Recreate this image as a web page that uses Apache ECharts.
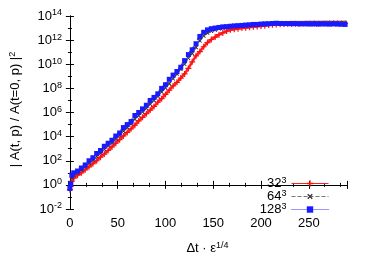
<!DOCTYPE html>
<html><head><meta charset="utf-8">
<script src="https://cdn.jsdelivr.net/npm/echarts@6/dist/echarts.min.js"></script>
<style>html,body{margin:0;padding:0;background:#fff}#c{width:371px;height:260px}</style>
</head><body><div id="c"></div>
<script>
// time axis (Δt · ε^{1/4})
var times = [0,1,2,4,8,12,16,20,24,28,32,36,40,44,48,52,56,60,64,68,72,76,80,84,88,92,96,100,104,108,112,116,120,124,128,132,136,140,144,148,152,156,160,164,168,172,176,180,184,188,192,196,200,204,208,212,216,220,224,228,232,236,240,244,248,252,256,260,264,268,272,276,280,284,288];
// log10 of |A(t,p)/A(t=0,p)|^2 (y axis is logarithmic: 10^exponent)
var log10_32 = [-0.4,-0.1,0.3,0.55,0.8,1.0,1.25,1.5,1.75,2.0,2.3,2.55,2.85,3.15,3.45,3.75,4.05,4.35,4.65,4.95,5.3,5.6,5.9,6.2,6.5,6.85,7.15,7.5,7.85,8.2,8.5,8.85,9.2,9.65,10.2,10.7,11.05,11.45,11.8,12.05,12.25,12.45,12.6,12.75,12.85,12.9,12.95,13.0,13.03,13.06,13.1,13.13,13.17,13.2,13.25,13.28,13.3,13.32,13.33,13.34,13.35,13.35,13.36,13.36,13.37,13.37,13.38,13.38,13.38,13.39,13.39,13.4,13.4,13.4,13.4];
var log10_64 = [-0.3,0.0,0.6,0.8,1.0,1.25,1.5,1.8,2.05,2.35,2.65,2.95,3.25,3.5,3.8,4.1,4.45,4.75,5.05,5.45,5.75,6.05,6.35,6.7,7.0,7.35,7.7,8.05,8.4,8.8,9.2,9.6,10.0,10.5,10.9,11.4,11.95,12.35,12.6,12.75,12.85,12.95,13.0,13.05,13.1,13.13,13.16,13.2,13.23,13.26,13.3,13.32,13.35,13.36,13.38,13.4,13.41,13.42,13.42,13.43,13.43,13.44,13.44,13.44,13.45,13.45,13.45,13.45,13.45,13.45,13.45,13.45,13.45,13.45,13.45];
var log10_128 = [-0.3,0.1,0.8,1.0,1.15,1.4,1.65,2.0,2.25,2.6,2.85,3.2,3.45,3.7,4.05,4.3,4.75,5.0,5.25,5.75,6.0,6.3,6.6,7.0,7.25,7.55,8.0,8.3,8.75,9.1,9.4,9.75,10.3,10.8,11.2,11.7,12.3,12.65,12.85,12.95,13.0,13.05,13.1,13.12,13.15,13.18,13.2,13.22,13.25,13.27,13.3,13.3,13.33,13.35,13.36,13.38,13.4,13.38,13.37,13.38,13.36,13.37,13.35,13.36,13.35,13.34,13.35,13.33,13.35,13.34,13.33,13.35,13.33,13.32,13.3];
var yTickExponents = [-2,0,2,4,6,8,10,12,14];
var seriesNames = ['32^3','64^3','128^3'];

function pts(arr){ return times.map(function(t,i){ return [t, arr[i]]; }); }
var FONT = 'Liberation Sans';
var rich = {
  b:{fontFamily:FONT,fontSize:13,color:'#000'},
  s:{fontFamily:FONT,fontSize:9,color:'#000',padding:[0,0,6,0]}
};
function supLabel(s){ var p=s.split('^'); return '{b|'+p[0]+'}{s|'+p[1]+'}'; }
var plus = 'path://M4,0h2v10h-2zM0,4h10v2h-10z';
var chart = echarts.init(document.getElementById('c'), null, {renderer:'canvas'});
var ySet = {type:'value', min:yTickExponents[0], max:yTickExponents[yTickExponents.length-1], interval:2};
chart.setOption({
  animation:false,
  backgroundColor:'#fff',
  grid:{left:64, right:24, top:16, bottom:41},
  legend:{
    orient:'vertical', right:37, top:171, itemGap:-1, itemWidth:37, itemHeight:8, align:'right',
    data:seriesNames,
    lineStyle:{width:1},
    formatter:function(n){return supLabel(n);},
    textStyle:{rich:rich}
  },
  xAxis:[{
    type:'value', min:-2, max:290, splitNumber:6,
    name:'{b|Δt · ε}{s|1/4}', nameLocation:'middle', nameGap:32,
    nameTextStyle:{rich:rich},
    axisLine:{lineStyle:{color:'#000'}},
    axisTick:{inside:true, length:4, lineStyle:{color:'#000'}},
    minorTick:{show:true, splitNumber:3, length:2, lineStyle:{color:'#000'}},
    axisLabel:{fontFamily:FONT, fontSize:13, color:'#000', margin:8, showMinLabel:false, showMaxLabel:false},
    splitLine:{show:false}
  },{
    type:'value', position:'top', min:-2, max:290, splitNumber:6,
    axisLine:{lineStyle:{color:'#000'}},
    axisTick:{inside:true, length:4, lineStyle:{color:'#000'}},
    minorTick:{show:true, splitNumber:3, length:2, lineStyle:{color:'#000'}},
    axisLabel:{show:false}, splitLine:{show:false}
  }],
  yAxis:[Object.assign({}, ySet, {
    name:'{b|| A(t, p) / A(t=0, p) |}{s|2}', nameLocation:'middle', nameGap:45, nameRotate:90,
    nameTextStyle:{rich:rich, padding:[0,0,0,6]},
    axisLine:{show:true, lineStyle:{color:'#000'}},
    axisTick:{inside:true, length:4, lineStyle:{color:'#000'}},
    minorTick:{show:true, splitNumber:2, length:2, lineStyle:{color:'#000'}},
    axisLabel:{margin:6, formatter:function(v){return '{b|10}{s|'+v+'}';}, rich:rich},
    splitLine:{show:false}
  }), Object.assign({}, ySet, {
    position:'right',
    axisLine:{show:true, lineStyle:{color:'#000'}},
    axisTick:{inside:true, length:4, lineStyle:{color:'#000'}},
    minorTick:{show:true, splitNumber:2, length:2, lineStyle:{color:'#000'}},
    axisLabel:{show:false}, splitLine:{show:false}
  })],
  series:[
    {name:'32^3', type:'line', data:pts(log10_32), symbol:plus, symbolSize:6, showAllSymbol:true,
     itemStyle:{color:'#ff1010'}, lineStyle:{color:'#ff2020', width:2.5}},
    {name:'64^3', type:'line', data:pts(log10_64), symbol:plus, symbolRotate:45, symbolSize:5, showAllSymbol:true,
     itemStyle:{color:'#333'}, lineStyle:{color:'#777', width:1.5, type:'dashed'}},
    {name:'128^3', type:'line', data:pts(log10_128), symbol:'rect', symbolSize:5, showAllSymbol:true,
     itemStyle:{color:'#1a1aff'}, lineStyle:{color:'#3333ff', width:2.5, type:'dotted'}}
  ]
});
</script></body></html>
